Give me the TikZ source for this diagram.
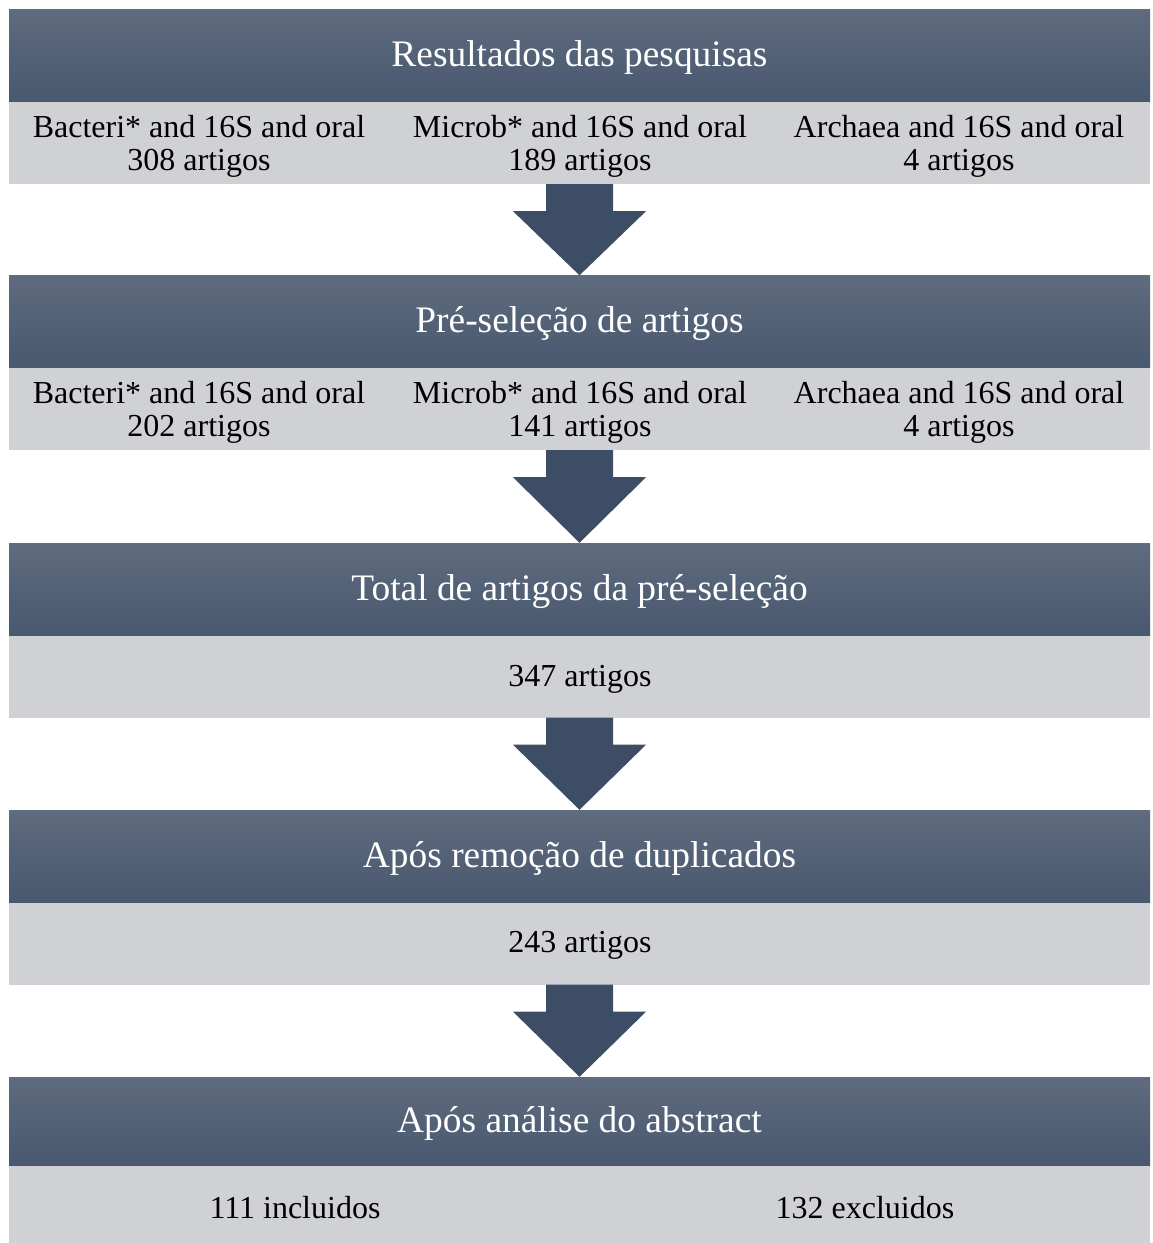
\documentclass[tikz,border=0pt]{standalone}
\usepackage{fontspec}
\setmainfont{Liberation Serif}
\usetikzlibrary{calc}
\definecolor{hdrtop}{HTML}{5F6B7E}
\definecolor{hdrbot}{HTML}{48586F}
\definecolor{arrc}{HTML}{3E4D66}
\definecolor{bandc}{HTML}{D0D1D5}
\tikzset{
  hdr/.style={rectangle, top color=hdrtop, bottom color=hdrbot, draw=none,
    minimum width=1141pt, minimum height=93pt, inner sep=0pt},
  htxt/.style={inner sep=0pt, text=white, font=\fontsize{37.4}{42}\selectfont},
  band/.style={rectangle, fill=bandc, draw=none, minimum width=1141pt,
    minimum height=82pt, inner sep=0pt},
  btxt/.style={align=center, inner sep=0pt, font=\fontsize{32}{33}\selectfont},
  flowarrow/.style={fill=arrc, draw=none}
}
\newcommand{\flowarr}[2]{%
  \fill[flowarrow] ($(#1.south)+(-33.5,0)$) -- ($(#1.south)+(33.5,0)$)
    -- ($(#1.south)+(33.5,27)$) -- ($(#1.south)+(66.5,27)$) -- (#2.north)
    -- ($(#1.south)+(-66.5,27)$) -- ($(#1.south)+(-33.5,27)$) -- cycle;}
\begin{document}
\begin{tikzpicture}[x=1pt,y=-1pt]
\useasboundingbox (0,0) rectangle (1152,1243);
% block 1
\node[hdr] (h1) at (579.5,55.5) {};
\node[htxt] (l1) at (579.5,57.5) {Resultados das pesquisas};
\node[band] (b1) at (579.5,143) {};
\node[btxt] (t1a) at (199,146) {Bacteri* and 16S and oral\\308 artigos};
\node[btxt] (t1b) at (580,146) {Microb* and 16S and oral\\189 artigos};
\node[btxt] (t1c) at (959,146) {Archaea and 16S and oral\\4 artigos};
% block 2
\node[hdr] (h2) at (579.5,322) {};
\node[htxt] (l2) at (579.5,324) {Pré-seleção de artigos};
\node[band] (b2) at (579.5,409) {};
\node[btxt] (t2a) at (199,412) {Bacteri* and 16S and oral\\202 artigos};
\node[btxt] (t2b) at (580,412) {Microb* and 16S and oral\\141 artigos};
\node[btxt] (t2c) at (959,412) {Archaea and 16S and oral\\4 artigos};
% block 3
\node[hdr] (h3) at (579.5,589.5) {};
\node[htxt] (l3) at (579.5,591.5) {Total de artigos da pré-seleção};
\node[band] (b3) at (579.5,676.5) {};
\node[btxt] (t3) at (580,679) {347 artigos};
% block 4
\node[hdr] (h4) at (579.5,856.5) {};
\node[htxt] (l4) at (579.5,858.5) {Após remoção de duplicados};
\node[band] (b4) at (579.5,943.5) {};
\node[btxt] (t4) at (580,945.5) {243 artigos};
% block 5
\node[hdr, minimum height=89pt] (h5) at (579.5,1121.5) {};
\node[htxt] (l5) at (579.5,1123) {Após análise do abstract};
\node[band, minimum height=77pt] (b5) at (579.5,1204.5) {};
\node[btxt] (t5a) at (295,1208) {111 incluidos};
\node[btxt] (t5b) at (865,1208) {132 excluidos};
% arrows
\flowarr{b1}{h2}
\flowarr{b2}{h3}
\flowarr{b3}{h4}
\flowarr{b4}{h5}
\end{tikzpicture}
\end{document}
